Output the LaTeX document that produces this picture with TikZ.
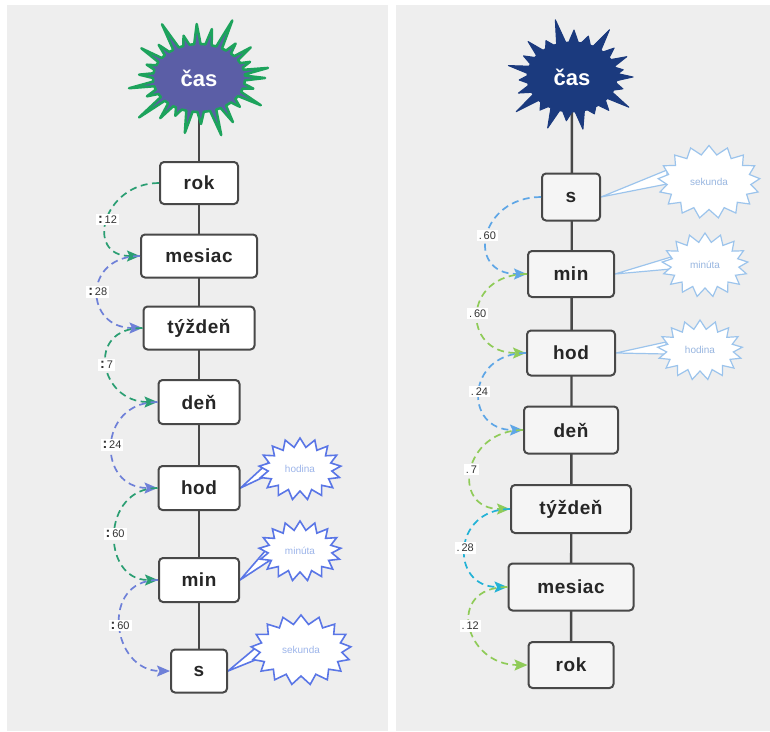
\documentclass[tikz,border=0pt]{standalone}
\usepackage{fontspec}
\setmainfont{Liberation Sans}
\usetikzlibrary{arrows.meta,shapes.symbols}
\definecolor{paper}{HTML}{EEEEEE}
\definecolor{boxline}{HTML}{484848}
\definecolor{Lgreen}{HTML}{2A9E72}
\definecolor{Lblue}{HTML}{6E80D8}
\definecolor{Rblue}{HTML}{5EA6E6}
\definecolor{Rgreen}{HTML}{8FCB58}
\definecolor{Rcyan}{HTML}{22B2D6}
\definecolor{splatL}{HTML}{5B5EA6}
\definecolor{splatLline}{HTML}{1DA35C}
\definecolor{splatR}{HTML}{1B3A7E}
\definecolor{bubLline}{HTML}{5A76E6}
\definecolor{bubLtext}{HTML}{9DB5EA}
\definecolor{bubRline}{HTML}{9CC4EC}
\definecolor{bubRtext}{HTML}{98B6E0}
\pgfdeclarelayer{bg}\pgfdeclarelayer{mid}\pgfsetlayers{bg,mid,main}
% splat outline around a named node: #1 style, #2 node, #3 rx, #4 ry, #5 half width of spike base (deg), #6 list angle/length
\newcommand{\drawsplat}[6]{%
  \draw[#1] ([shift={(-#5:#3 and #4)}]#2.center)
    \foreach \a/\l in {#6} {
      -- ([shift={({\a-#5}:#3 and #4)}]#2.center)
      -- ([shift={(\a:{#3+\l} and {#4+\l})}]#2.center)
      -- ([shift={({\a+#5}:#3 and #4)}]#2.center)
    } -- cycle;}
\begin{document}
\begin{tikzpicture}[x=1pt,y=-1pt,
  lbox/.style={draw=boxline,line width=2pt,rounded corners=4pt,fill=white,
    font=\fontsize{19}{21}\selectfont\bfseries\addfontfeatures{LetterSpace=3},text=black!85,inner sep=0pt},
  rbox/.style={lbox,fill=black!4},
  vline/.style={draw=boxline,line width=2.4pt},
  arcbase/.style={line width=1.7pt,dash pattern=on 7pt off 4.5pt,
    -{Stealth[length=13pt,width=11pt,inset=2.5pt]}},
  arcLG/.style={arcbase,draw=Lgreen},
  arcLB/.style={arcbase,draw=Lblue},
  arcRB/.style={arcbase,draw=Rblue},
  arcRG/.style={arcbase,draw=Rgreen},
  arcRC/.style={arcbase,draw=Rcyan},
  lab/.style={fill=white,inner sep=2pt,text=black!80,font=\fontsize{11}{13}\selectfont},
  bubL/.style={starburst,starburst points=17,starburst point height=9pt,random starburst=0,
    draw=bubLline,line width=1.6pt,fill=white,text=bubLtext,font=\fontsize{10}{11}\selectfont,inner sep=0pt},
  bubR/.style={bubL,draw=bubRline,line width=1.2pt,text=bubRtext},
  tailL/.style={draw=bubLline,line width=1.6pt,fill=white},
  tailR/.style={draw=bubRline,line width=1.2pt,fill=white},
  splattext/.style={circle,minimum size=60pt,inner sep=0pt},
  splatlabel/.style={font=\fontsize{22}{24}\selectfont\bfseries,text=white},
  splatLst/.style={fill=splatL,draw=splatLline,line width=2.5pt,line join=round},
  splatRst/.style={fill=splatR,draw=splatR,line width=1pt,line join=round}
]
\useasboundingbox (0,0) rectangle (770,731);
\begin{pgfonlayer}{bg}
  \fill[white] (0,0) rectangle (770,731);
  \fill[paper] (7,5) rectangle (388,731);
  \fill[paper] (396,5) rectangle (770,731);
\end{pgfonlayer}

% ---------------- left panel ----------------
\node[splattext] (Lcas) at (199,78) {};
\begin{pgfonlayer}{mid}
  \draw[vline] (Lcas.center) -- (199,671);
\end{pgfonlayer}
\drawsplat{splatLst}{Lcas}{46}{34}{4}{0/20,14/10,28/24,42/9,58/18,72/26,88/12,102/22,116/8,128/17,142/30,156/11,170/25,184/14,198/9,212/22,226/12,240/28,254/10,268/20,282/16,296/30,310/11,324/18,338/9,350/24}
\node[splatlabel] at (Lcas) {čas};

\node[lbox,minimum width=78pt,minimum height=42pt] (Lrok) at (199,183) {rok};
\node[lbox,minimum width=116pt,minimum height=43pt] (Lmes) at (199,256) {mesiac};
\node[lbox,minimum width=111pt,minimum height=43pt] (Ltyz) at (199,328) {týždeň};
\node[lbox,minimum width=81pt,minimum height=44pt] (Lden) at (199,402) {deň};
\node[lbox,minimum width=81pt,minimum height=44pt] (Lhod) at (199,488) {hod};
\node[lbox,minimum width=80pt,minimum height=44pt] (Lmin) at (199,580) {min};
\node[lbox,minimum width=56pt,minimum height=43pt] (Ls) at (199,671) {s};

\node[bubL,minimum width=82pt,minimum height=62pt] (Lhodb) at (300,469) {hodina};
\node[bubL,minimum width=82pt,minimum height=60pt] (Lminb) at (300,551) {minúta};
\node[bubL,minimum width=100pt,minimum height=70pt] (Lsb) at (301,650) {sekunda};

\begin{pgfonlayer}{mid}
  \draw[tailL] (Lhod.east) -- ([xshift=-28pt,yshift=-4pt]Lhodb.center) -- ([xshift=-28pt,yshift=10pt]Lhodb.center) -- cycle;
  \draw[tailL] (Lmin.east) -- ([xshift=-28pt,yshift=-8pt]Lminb.center) -- ([xshift=-28pt,yshift=8pt]Lminb.center) -- cycle;
  \draw[tailL] (Ls.east) -- ([xshift=-36pt,yshift=-6pt]Lsb.center) -- ([xshift=-36pt,yshift=10pt]Lsb.center) -- cycle;
\end{pgfonlayer}

\draw[arcLG] (Lrok.west) to[out=180,in=180,looseness=1.9] node[lab] {\textbf{\Large:}\,12} (Lmes.west);
\draw[arcLB] (Lmes.west) to[out=180,in=180,looseness=2.06] node[lab] {\textbf{\Large:}\,28} (Ltyz.west);
\draw[arcLG] (Ltyz.west) to[out=180,in=180,looseness=1.96] node[lab] {\textbf{\Large:}\,7} (Lden.west);
\draw[arcLB] (Lden.west) to[out=180,in=180,looseness=1.81] node[lab] {\textbf{\Large:}\,24} (Lhod.west);
\draw[arcLG] (Lhod.west) to[out=180,in=180,looseness=1.58] node[lab] {\textbf{\Large:}\,60} (Lmin.west);
\draw[arcLB] (Lmin.west) to[out=180,in=180,looseness=1.63] node[lab] {\textbf{\Large:}\,60} (Ls.west);

% ---------------- right panel ----------------
\node[splattext] (Rcas) at (572,77) {};
\begin{pgfonlayer}{mid}
  \draw[vline] (Rcas.center) -- (571,665);
\end{pgfonlayer}
\drawsplat{splatRst}{Rcas}{45}{35}{6}{0/16,16/8,32/22,48/10,64/6,80/18,96/9,112/20,128/7,144/24,160/12,176/8,192/20,208/10,224/16,240/7,256/24,272/12,288/8,304/22,320/10,336/15,350/7}
\node[splatlabel] at (Rcas) {čas};

\node[rbox,minimum width=58pt,minimum height=47pt] (Rs) at (571,197) {s};
\node[rbox,minimum width=86pt,minimum height=46pt] (Rmin) at (571,274) {min};
\node[rbox,minimum width=88pt,minimum height=45pt] (Rhod) at (571,353) {hod};
\node[rbox,minimum width=94pt,minimum height=47pt] (Rden) at (571,430) {deň};
\node[rbox,minimum width=120pt,minimum height=48pt] (Rtyz) at (571,509) {týždeň};
\node[rbox,minimum width=125pt,minimum height=47pt] (Rmes) at (571,587) {mesiac};
\node[rbox,minimum width=85pt,minimum height=46pt] (Rrok) at (571,665) {rok};

\node[bubR,minimum width=102pt,minimum height=73pt] (Rsb) at (709,182) {sekunda};
\node[bubR,minimum width=86pt,minimum height=64pt] (Rminb) at (705,265) {minúta};
\node[bubR,minimum width=85pt,minimum height=60pt] (Rhodb) at (700,350) {hodina};

\begin{pgfonlayer}{mid}
  \draw[tailR] (Rs.east) -- ([xshift=-42pt,yshift=-2pt]Rsb.center) -- ([xshift=-42pt,yshift=12pt]Rsb.center) -- cycle;
  \draw[tailR] (Rmin.east) -- ([xshift=-34pt,yshift=-4pt]Rminb.center) -- ([xshift=-34pt,yshift=8pt]Rminb.center) -- cycle;
  \draw[tailR] (Rhod.east) -- ([xshift=-34pt,yshift=-4pt]Rhodb.center) -- ([xshift=-34pt,yshift=8pt]Rhodb.center) -- cycle;
\end{pgfonlayer}

\draw[arcRB] (Rs.west) to[out=180,in=180,looseness=2.03] node[lab] {.\,60} (Rmin.west);
\draw[arcRG] (Rmin.west) to[out=180,in=180,looseness=2.1] node[lab] {.\,60} (Rhod.west);
\draw[arcRB] (Rhod.west) to[out=180,in=180,looseness=1.99] node[lab] {.\,24} (Rden.west);
\draw[arcRG] (Rden.west) to[out=180,in=180,looseness=1.92] node[lab] {.\,7} (Rtyz.west);
\draw[arcRC] (Rtyz.west) to[out=180,in=180,looseness=1.9] node[lab] {.\,28} (Rmes.west);
\draw[arcRG] (Rmes.west) to[out=180,in=180,looseness=2.0] node[lab] {.\,12} (Rrok.west);
\end{tikzpicture}
\end{document}
